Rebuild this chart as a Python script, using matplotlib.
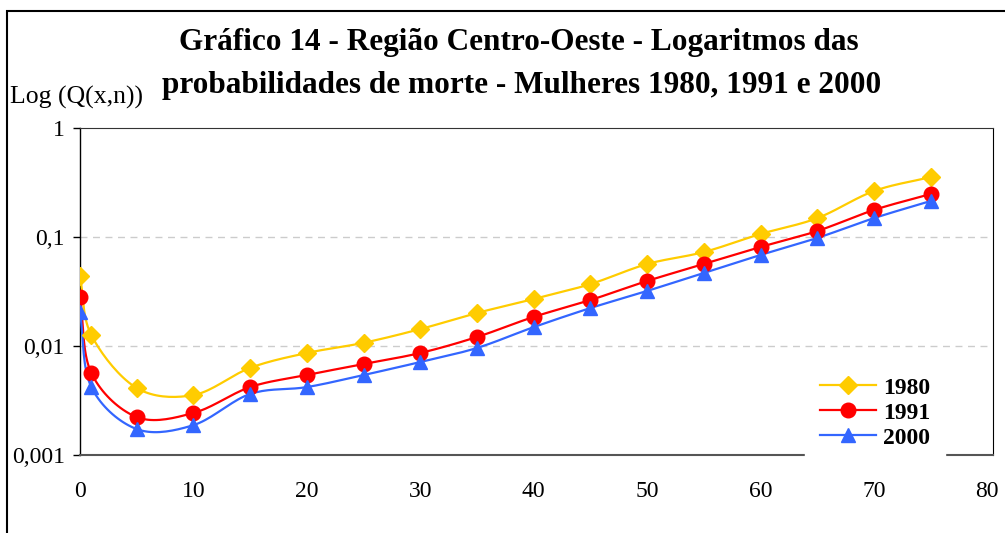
import numpy as np
import matplotlib.pyplot as plt
from matplotlib.patches import Rectangle

plt.rcParams['font.family'] = ['Liberation Serif', 'DejaVu Serif']

# ages (x) and death probabilities
ages = [0, 1, 5, 10, 15, 20, 25, 30, 35, 40, 45, 50, 55, 60, 65, 70, 75]
q_1980 = [0.0439, 0.0126, 0.00412, 0.00355, 0.0063, 0.00863, 0.0107, 0.0143, 0.0201,
          0.027, 0.037, 0.0565, 0.0728, 0.1066, 0.149, 0.264, 0.355]
q_1991 = [0.0282, 0.00565, 0.00223, 0.00243, 0.0042, 0.00542, 0.00684, 0.00863, 0.0121,
          0.0185, 0.0264, 0.0395, 0.0565, 0.081, 0.1135, 0.177, 0.248]
q_2000 = [0.0205, 0.0042, 0.00173, 0.00188, 0.00363, 0.0042, 0.00542, 0.00713, 0.0096,
          0.0149, 0.0223, 0.032, 0.0468, 0.0684, 0.098, 0.149, 0.214]
series_names = ['1980', '1991', '2000']
colors = ['#FFCC00', '#FF0000', '#3366FF']
markers = ['D', 'o', '^']
msizes = [9, 10.5, 10.5]


def smooth(x, y, n=20):
    # Catmull-Rom through the points, in x / log10(y) space (like Excel smoothed lines)
    x = np.asarray(x, float)
    ly = np.log10(np.asarray(y, float))
    px = np.concatenate([[2 * x[0] - x[1]], x, [2 * x[-1] - x[-2]]])
    py = np.concatenate([[2 * ly[0] - ly[1]], ly, [2 * ly[-1] - ly[-2]]])
    xs, ys = [], []
    t = np.linspace(0, 1, n)
    h00 = 2 * t**3 - 3 * t**2 + 1
    h10 = t**3 - 2 * t**2 + t
    h01 = -2 * t**3 + 3 * t**2
    h11 = t**3 - t**2
    for i in range(1, len(px) - 2):
        for arr, out in ((px, xs), (py, ys)):
            p0, p1, p2, p3 = arr[i - 1], arr[i], arr[i + 1], arr[i + 2]
            m1 = (p2 - p0) / 2
            m2 = (p3 - p1) / 2
            out.extend(h00 * p1 + h10 * m1 + h01 * p2 + h11 * m2)
    return np.array(xs), 10 ** np.array(ys)


fig = plt.figure(figsize=(10.05, 5.33), dpi=100)
ax = fig.add_axes([0.0796, 0.1463, 0.9085, 0.6135])

for q, name, c, m, ms in zip([q_1980, q_1991, q_2000], series_names, colors, markers, msizes):
    sx, sy = smooth(ages, q)
    ax.plot(sx, sy, color=c, lw=1.6, zorder=3)
    ax.plot(ages, q, linestyle='none', marker=m, color=c, markersize=ms, zorder=4)
    ax.plot([], [], color=c, lw=1.6, marker=m, markersize=ms, label=name)

ax.set_yscale('log')
ax.set_ylim(0.001, 1)
ax.set_xlim(0, 80.5)
ax.set_xticks(range(0, 81, 10))
ax.set_yticks([0.001, 0.01, 0.1, 1])
ax.set_yticklabels(['0,001', '0,01', '0,1', '1'])
ax.minorticks_off()
ax.tick_params(axis='both', labelsize=17, length=5, width=1)
ax.tick_params(axis='x', length=0, pad=19)
ax.tick_params(axis='y', pad=6)
for v in [0.01, 0.1]:
    ax.axhline(v, color='#CCCCCC', lw=1, ls=(0, (5, 4)), zorder=1)

ax.spines['left'].set_linewidth(1)
ax.spines['top'].set_color('#333333')
ax.spines['bottom'].set_color('#555555')
ax.spines['bottom'].set_linewidth(1.5)

leg = ax.legend(loc='lower right', bbox_to_anchor=(0.96, -0.06), frameon=True, fancybox=False,
                prop={'weight': 'bold', 'size': 17}, handlelength=2.4, labelspacing=0.15,
                borderpad=0.6, handletextpad=0.3)
leg.get_frame().set_edgecolor('white')
leg.get_frame().set_alpha(1)

fig.text(0.516, 0.921, 'Gráfico 14 - Região Centro-Oeste - Logaritmos das',
         ha='center', va='center', fontsize=22.5, fontweight='bold')
fig.text(0.519, 0.84, 'probabilidades de morte - Mulheres 1980, 1991 e 2000',
         ha='center', va='center', fontsize=22.5, fontweight='bold')
fig.text(0.01, 0.818, 'Log (Q(x,n))', ha='left', va='center', fontsize=18.5)

fig.patches.append(Rectangle((0.007, -0.5), 1.5, 1.479, transform=fig.transFigure,
                             fill=False, edgecolor='black', lw=1.5))

fig.savefig('out.png', dpi=100)
